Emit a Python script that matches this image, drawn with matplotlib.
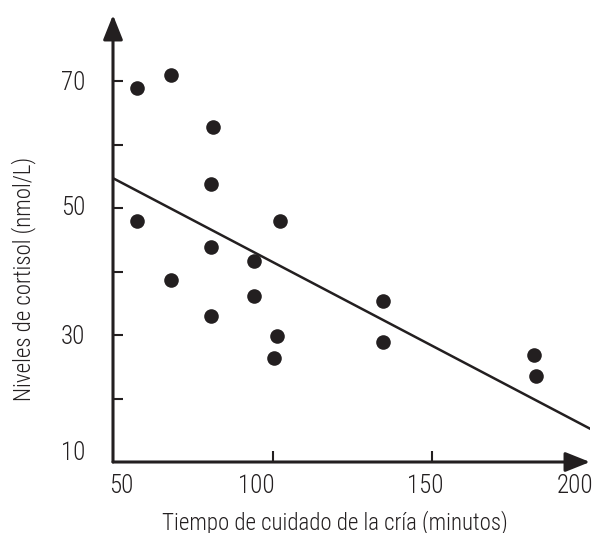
import matplotlib

matplotlib.use("Agg")
import matplotlib.pyplot as plt
from matplotlib import font_manager

# --- Data --------------------------------------------------------------------
tiempo = [57.1, 67.8, 81.1, 80.3, 57.1, 101.9, 80.3, 93.8, 67.8, 93.8,
          80.3, 101.2, 100.1, 134.6, 134.6, 181.9, 182.6]
cortisol = [68.9, 71.0, 62.8, 53.8, 47.9, 47.9, 43.8, 41.6, 38.7, 36.1,
            33.0, 29.8, 26.4, 35.4, 28.9, 26.8, 23.6]

# regression line end points
linea_x = [49.5, 199.4]
linea_y = [54.7, 15.3]

x_ticks = [100, 150]
y_ticks = [20, 30, 40, 50, 60, 70]
x_labels = ["50", "100", "150", "200"]
y_labels = ["70", "50", "30", "10"]

INK = "#231f20"

# --- Font --------------------------------------------------------------------
names = {f.name for f in font_manager.fontManager.ttflist}
family = "DejaVu Sans"
for cand in ["Roboto Condensed", "Liberation Sans Narrow", "Open Sans Condensed", "Liberation Sans"]:
    if cand in names:
        family = cand
        break
plt.rcParams["font.family"] = [family, "DejaVu Sans"]
plt.rcParams["font.weight"] = "light"

# --- Plot --------------------------------------------------------------------
fig = plt.figure(figsize=(5.98, 5.33), dpi=100)
ax = fig.add_axes([113 / 598, 71 / 533, 477 / 598, 447 / 533])

ax.plot(linea_x, linea_y, color=INK, lw=1.8, zorder=2)
ax.plot(tiempo, cortisol, "o", color=INK, ms=10.5, mec="none", zorder=3)

ax.set_xlim(49.5, 199.6)
ax.set_ylim(10, 80.4)

for s in ax.spines.values():
    s.set_visible(False)

# axes with arrow heads
arrow = dict(arrowstyle="-|>,head_length=0.75,head_width=0.3", lw=2.2, color=INK,
             shrinkA=0, shrinkB=0, mutation_scale=20)
ax.annotate("", xy=(1, 0), xytext=(0, 0), xycoords="axes fraction", arrowprops=arrow)
ax.annotate("", xy=(0, 1), xytext=(0, 0), xycoords="axes fraction", arrowprops=arrow)

ax.set_xticks(x_ticks)
ax.set_yticks(y_ticks)
ax.set_xticklabels([])
ax.set_yticklabels([])
ax.tick_params(axis="x", direction="in", length=8, width=1.5, color=INK)
ax.tick_params(axis="y", direction="in", length=7, width=1.5, color=INK)

# tick labels placed like the original figure
x_offsets = [4.7, -12.6, -5, -11.9]
for lab, dx in zip(x_labels, x_offsets):
    ax.annotate(lab, xy=(float(lab), 0), xycoords=("data", "axes fraction"),
                xytext=(dx, -17.3), textcoords="offset points",
                ha="center", va="center", fontsize=18, color=INK)

y_offsets = [-1.4, 0, -1.4, 6.5]
for lab, dy in zip(y_labels, y_offsets):
    ax.annotate(lab, xy=(0, float(lab)), xycoords=("axes fraction", "data"),
                xytext=(-20, dy), textcoords="offset points",
                ha="right", va="center", fontsize=18, color=INK)

fig.text(335 / 598, 4 / 533, "Tiempo de cuidado de la cría (minutos)",
         ha="center", va="baseline", fontsize=16.5, color=INK)
fig.text(24 / 598, 254 / 533, "Niveles de cortisol (nmol/L)", rotation=90,
         ha="center", va="center", fontsize=16.5, color=INK)

fig.savefig("out.png", dpi=100)
